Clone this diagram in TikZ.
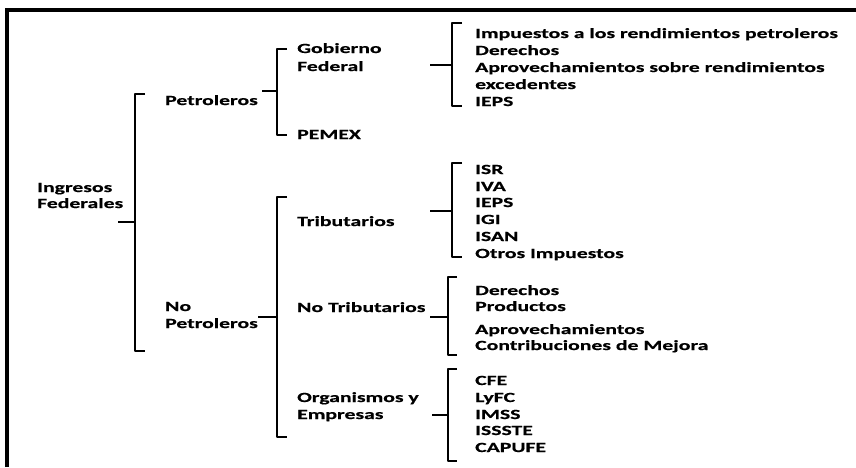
\documentclass[tikz,border=0pt]{standalone}
\usepackage{fontspec}
\setmainfont{Carlito}[FakeStretch=1.55,BoldFeatures={FakeBold=0.6}]
\begin{document}
\begin{tikzpicture}[x=1pt,y=-1pt,
  t/.style={anchor=base west,inner sep=0pt,font=\fontsize{14}{16.8}\selectfont\bfseries},
  br/.style={line width=1.7pt,line join=round},
  frame/.style={line width=3.5pt}]
\useasboundingbox (0,0) rectangle (856,467);
\draw[frame] (7,467) -- (7,10) -- (856,10);
% level 0
\node[t] (ing1) at (37,192) {Ingresos};
\node[t] (ing2) at (37,208) {Federales};
% level 1
\node[t] (pet) at (165,105) {Petroleros};
\node[t] (nop1) at (165,311) {No};
\node[t] (nop2) at (165,328) {Petroleros};
% level 2
\node[t] (gob1) at (297,53) {Gobierno};
\node[t] (gob2) at (297,71) {Federal};
\node[t] (pemex) at (297,139) {PEMEX};
\node[t] (trib) at (297,226) {Tributarios};
\node[t] (notrib) at (297,312) {No Tributarios};
\node[t] (org1) at (297,402) {Organismos y};
\node[t] (org2) at (297,419) {Empresas};
% level 3
\node[t] (g1) at (475,38) {Impuestos a los rendimientos petroleros};
\node[t] (g2) at (475,55) {Derechos};
\node[t] (g3) at (475,72) {Aprovechamientos sobre rendimientos};
\node[t] (g4) at (475,89) {excedentes};
\node[t] (g5) at (475,106) {IEPS};
\node[t] (t1) at (475,174) {ISR};
\node[t] (t2) at (475,191) {IVA};
\node[t] (t3) at (475,207) {IEPS};
\node[t] (t4) at (475,224) {IGI};
\node[t] (t5) at (475,241) {ISAN};
\node[t] (t6) at (475,258) {Otros Impuestos};
\node[t] (n1) at (475,295) {Derechos};
\node[t] (n2) at (475,311) {Productos};
\node[t] (n3) at (475,334) {Aprovechamientos};
\node[t] (n4) at (475,350) {Contribuciones de Mejora};
\node[t] (o1) at (475,385) {CFE};
\node[t] (o2) at (475,402) {LyFC};
\node[t] (o3) at (475,419) {IMSS};
\node[t] (o4) at (475,435) {ISSSTE};
\node[t] (o5) at (475,452) {CAPUFE};
% brackets
\newcommand\mybracket[6]{%
  \draw[br] (#3,#4) -- (#2,#4) -- (#2,#6) -- (#3,#6);
  \draw[br] (#1,#5) -- (#2,#5);}
\mybracket{118}{135}{145}{94}{222}{351}
\mybracket{262}{277}{287}{49}{91}{135}
\mybracket{258}{277}{287}{197}{317}{437}
\mybracket{430}{452}{462}{23}{65}{106}
\mybracket{430}{452}{462}{163}{211}{257}
\mybracket{430}{448}{457}{277}{317}{355}
\mybracket{432}{448}{457}{369}{415}{461}
\end{tikzpicture}
\end{document}
